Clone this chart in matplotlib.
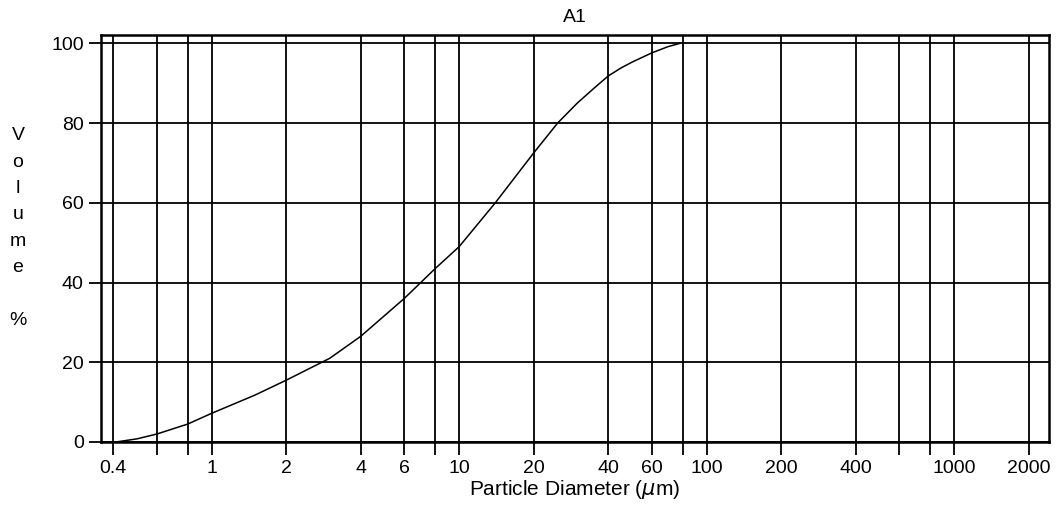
import numpy as np
import matplotlib
matplotlib.use('Agg')
import matplotlib.pyplot as plt
from matplotlib.ticker import NullLocator

# cumulative volume curve
diameter = [0.41, 0.5, 0.6, 0.8, 1, 1.5, 2, 3, 4, 6, 8, 10, 14, 20, 25, 30,
            35, 40, 45, 50, 60, 70, 78]
volume = [0, 0.8, 2.0, 4.5, 7.2, 11.8, 15.5, 21, 26.5, 36, 43.5, 49, 60, 72.5,
          80, 85, 88.7, 91.8, 93.8, 95.3, 97.6, 99.2, 100]

grid_x = [0.4, 0.6, 0.8, 1, 2, 4, 6, 8, 10, 20, 40, 60, 80, 100, 200, 400,
          600, 800, 1000, 2000]
grid_labels = ['0.4', '', '', '1', '2', '4', '6', '', '10', '20', '40', '60',
               '', '100', '200', '400', '', '', '1000', '2000']
y_ticks = [0, 20, 40, 60, 80, 100]

plt.rcParams['font.family'] = ['Liberation Sans', 'DejaVu Sans']

fig = plt.figure(figsize=(10.58, 5.16), dpi=100)
ax = fig.add_axes([101/1058, 1 - 442/516, (1049 - 101)/1058, (442 - 35)/516])

ax.set_xscale('log')
ax.set_xlim(0.357, 2420)
ax.set_ylim(0, 102.1)

for gx in grid_x:
    ax.axvline(gx, color='black', lw=1.3, zorder=1)
for gy in y_ticks:
    ax.axhline(gy, color='black', lw=1.3, zorder=1)

ax.plot(diameter, volume, color='black', lw=1.1, zorder=3)

ax.set_xticks(grid_x)
ax.set_xticklabels(grid_labels)
ax.xaxis.set_minor_locator(NullLocator())
ax.set_yticks(y_ticks)
ax.tick_params(direction='out', length=9, width=1.3, labelsize=14, colors='black')
ax.tick_params(axis='x', pad=4)

for s in ax.spines.values():
    s.set_linewidth(1.8)

ax.set_title('A1', fontsize=14, pad=9)
ax.set_xlabel('Particle Diameter ($\\mu$m)', fontsize=15, labelpad=1)

# stacked y label
fig.text(18/1058, 1 - 228/516, 'V\no\nl\nu\nm\ne\n\n%', fontsize=14,
         ha='center', va='center', multialignment='center', linespacing=1.72)

fig.savefig('out.png', dpi=100)
